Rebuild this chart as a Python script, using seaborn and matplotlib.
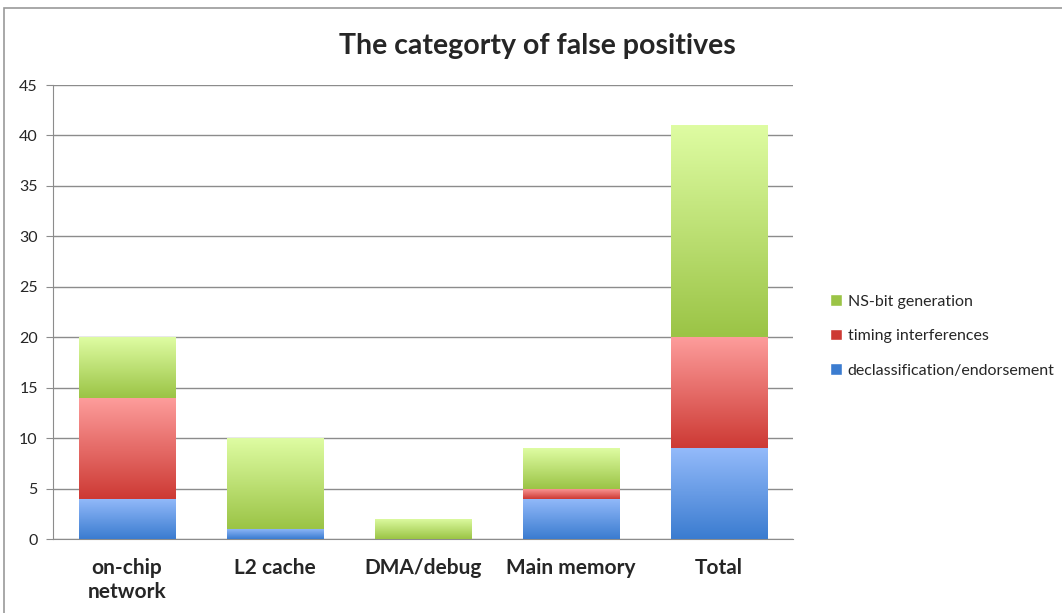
import numpy as np
import pandas as pd
import matplotlib
matplotlib.use("Agg")
import matplotlib.pyplot as plt
from matplotlib.colors import LinearSegmentedColormap
from matplotlib.patches import Patch, Rectangle
import seaborn as sns

categories = ["on-chip\nnetwork", "L2 cache", "DMA/debug", "Main memory", "Total"]
declass = [4, 1, 0, 4, 9]
timing = [10, 0, 0, 1, 11]
nsbit = [6, 9, 2, 4, 21]
series_names = ["declassification/endorsement", "timing interferences", "NS-bit generation"]

# top / bottom gradient colours per series
grads = {
    "declassification/endorsement": ("#93bafa", "#3b7cd0"),
    "timing interferences": ("#fd9c9b", "#cd3a34"),
    "NS-bit generation": ("#defca2", "#9bc446"),
}

sns.set_style("white")
plt.rcParams["font.family"] = ["Lato", "DejaVu Sans"]

fig = plt.figure(figsize=(10.62, 6.13), dpi=100)
ax = fig.add_axes([0.0499, 0.1207, 0.6968, 0.7406])

df = pd.DataFrame({"cat": categories, "declass": declass, "timing": timing, "nsbit": nsbit})
bottoms = np.zeros(len(categories))
for col, name in zip(["declass", "timing", "nsbit"], series_names):
    n_before = len(ax.patches)
    sns.barplot(data=df, x="cat", y=col, bottom=bottoms, width=0.65, color=grads[name][1],
                ax=ax, zorder=3, linewidth=0)
    top, bot = grads[name]
    cmap = LinearSegmentedColormap.from_list(name, [bot, top])
    for p in ax.patches[n_before:]:
        x0, y0 = p.get_x(), p.get_y()
        w, h = p.get_width(), p.get_height()
        if h <= 0:
            continue
        p.set_facecolor("none")
        p.set_edgecolor("none")
        img = ax.imshow(np.linspace(0, 1, 100).reshape(-1, 1), cmap=cmap, origin="lower",
                        extent=[x0, x0 + w, y0, y0 + h], aspect="auto", zorder=3)
        img.set_clip_path(p)
    bottoms = bottoms + df[col].values

ax.set_xlim(-0.5, 4.5)
ax.set_ylim(0, 45)
ax.set_yticks(range(0, 46, 5))
ax.yaxis.grid(True, color="#8c8c8c", linewidth=1.0, zorder=0)
ax.set_axisbelow(True)
ax.set_xlabel("")
ax.set_ylabel("")
for s in ["top", "right"]:
    ax.spines[s].set_visible(False)
ax.spines["left"].set_color("#8c8c8c")
ax.spines["bottom"].set_color("#8c8c8c")
ax.tick_params(axis="y", length=5, color="#8c8c8c", labelsize=11.5, pad=6, left=True)
ax.tick_params(axis="x", length=0, labelsize=15, pad=14)
for lbl in ax.get_xticklabels():
    lbl.set_fontweight("bold")

fig.text(0.506, 0.925, "The categorty of false positives", ha="center", va="center",
         fontsize=20.5, fontweight="bold")

handles = [Patch(facecolor=grads[n][1], label=n) for n in reversed(series_names)]
fig.legend(handles=handles, loc="center left", bbox_to_anchor=(0.768, 0.452), frameon=False,
           fontsize=11.5, handlelength=0.75, handleheight=0.75, handletextpad=0.35,
           labelspacing=1.25)

fig.patches.append(Rectangle((0.004, -0.01), 1.1, 0.997, transform=fig.transFigure,
                             fill=False, edgecolor="#9a9a9a", linewidth=1.2))

fig.savefig("out.png", dpi=100)
